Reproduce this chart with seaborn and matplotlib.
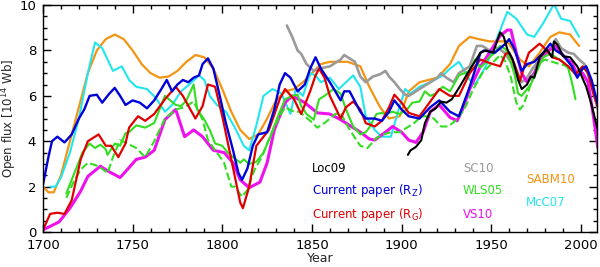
import matplotlib
matplotlib.use("Agg")
import matplotlib.pyplot as plt
import seaborn as sns
import pandas as pd
from matplotlib.ticker import MultipleLocator

# ---------------- data ----------------
sabm10_year = [1700, 1703, 1706, 1710, 1715, 1720, 1725, 1730, 1735, 1740, 1745, 1750, 1755, 1760,
               1765, 1770, 1775, 1780, 1785, 1790, 1795, 1800, 1805, 1810, 1815, 1820, 1825, 1830,
               1835, 1840, 1845, 1850, 1855, 1860, 1865, 1870, 1877, 1882, 1888, 1893, 1899, 1904,
               1910, 1920, 1927, 1932, 1938, 1943, 1949, 1955, 1959, 1966, 1971, 1977, 1983, 1988,
               1994, 1999]
sabm10_val = [2.0, 1.75, 1.75, 2.5, 4.0, 5.5, 7.0, 8.0, 8.5, 8.7, 8.5, 8.0, 7.4, 7.0,
              6.8, 6.85, 7.1, 7.5, 7.8, 7.7, 7.2, 6.3, 5.3, 4.5, 4.1, 4.3, 5.0, 5.8,
              6.2, 6.3, 6.6, 7.0, 7.4, 7.5, 7.5, 7.5, 7.3, 6.4, 5.5, 5.0, 5.1, 6.2,
              6.6, 6.8, 7.4, 8.2, 8.6, 8.5, 8.4, 8.4, 8.4, 7.6, 7.3, 7.9, 8.6, 8.8,
              8.7, 8.2]

mcc07_year = [1704, 1707, 1710, 1715, 1720, 1725, 1729, 1733, 1736, 1739, 1744, 1748, 1752, 1758,
              1763, 1768, 1772, 1777, 1783, 1787, 1790, 1793, 1797, 1802, 1807, 1812, 1815, 1819,
              1823, 1828, 1833, 1838, 1841, 1845, 1849, 1852, 1855, 1860, 1865, 1873, 1877, 1880,
              1885, 1889, 1894, 1898, 1902, 1905, 1910, 1916, 1923, 1927, 1932, 1938, 1941, 1947,
              1953, 1959, 1964, 1970, 1974, 1979, 1985, 1989, 1994, 1999]
mcc07_val = [2.0, 2.0, 2.4, 3.5, 5.0, 7.0, 8.35, 8.1, 7.6, 7.1, 7.3, 6.7, 6.4, 6.3,
             5.9, 5.3, 5.6, 6.2, 6.6, 6.9, 6.7, 6.0, 5.6, 5.3, 4.6, 3.8, 3.6, 4.7,
             6.0, 6.3, 6.1, 5.2, 6.3, 6.0, 7.0, 6.9, 6.6, 6.8, 6.3, 6.9, 6.4, 5.1,
             4.5, 4.2, 4.2, 5.3, 6.3, 6.1, 6.4, 6.6, 6.9, 7.2, 7.5, 6.7, 6.5, 7.3,
             8.5, 9.7, 9.4, 8.7, 8.6, 9.2, 10.05, 9.4, 9.3, 8.6]

rz_year = [1700, 1703, 1705, 1708, 1712, 1716, 1720, 1723, 1726, 1730, 1733, 1737, 1740, 1743,
           1746, 1750, 1754, 1758, 1762, 1766, 1769, 1772, 1775, 1778, 1781, 1784, 1787, 1789,
           1792, 1795, 1798, 1802, 1806, 1809, 1811, 1814, 1817, 1820, 1825, 1829, 1832, 1835,
           1838, 1842, 1846, 1849, 1852, 1855, 1860, 1866, 1868, 1871, 1877, 1880, 1885, 1889,
           1893, 1896, 1900, 1904, 1910, 1916, 1921, 1927, 1932, 1938, 1944, 1946, 1952, 1958,
           1960, 1963, 1967, 1970, 1974, 1979, 1983, 1986, 1990, 1995, 1998, 2001, 2003, 2006,
           2009.5]
rz_val = [2.1, 3.3, 4.0, 4.2, 3.95, 4.3, 5.0, 5.4, 6.0, 6.05, 5.7, 6.1, 6.35, 6.0,
          5.6, 5.8, 5.7, 5.45, 5.8, 6.3, 6.7, 6.2, 6.5, 6.7, 6.6, 6.8, 6.9, 7.4,
          7.65, 7.2, 6.2, 4.8, 3.6, 2.6, 2.3, 2.8, 3.8, 4.3, 4.4, 5.4, 6.5, 7.0,
          6.8, 6.2, 6.5, 7.2, 7.7, 7.2, 6.6, 5.8, 6.2, 6.2, 5.3, 5.0, 5.0, 4.9,
          5.3, 5.8, 5.4, 5.1, 5.0, 5.5, 5.8, 5.3, 5.1, 6.4, 7.9, 8.0, 7.9, 8.3,
          8.5, 8.05, 7.1, 7.4, 7.5, 7.9, 8.3, 8.0, 7.8, 7.3, 6.8, 7.2, 7.3, 6.7,
          5.6]

rg_year = [1700, 1704, 1708, 1712, 1716, 1721, 1725, 1731, 1735, 1738, 1742, 1746, 1748, 1753,
           1757, 1762, 1768, 1774, 1778, 1785, 1789, 1792, 1796, 1800, 1805, 1810, 1811.5, 1815,
           1819, 1823, 1826, 1832, 1835, 1840, 1844, 1849, 1852, 1854, 1857, 1860, 1866, 1869,
           1873, 1877, 1880, 1885, 1889, 1893, 1896, 1900, 1904, 1910, 1916, 1921, 1927, 1932,
           1938, 1944, 1949, 1955, 1958, 1960, 1963, 1966, 1969, 1971, 1977, 1981, 1984, 1988,
           1993, 1997, 2001, 2004, 2007, 2009.5]
rg_val = [0.1, 0.8, 0.85, 0.8, 1.4, 3.2, 4.0, 4.3, 3.8, 3.8, 3.3, 3.9, 4.6, 5.1,
          4.9, 5.2, 5.85, 6.4, 6.0, 5.0, 5.55, 6.5, 6.4, 5.1, 3.2, 1.3, 1.05, 2.0,
          3.8, 4.2, 4.5, 5.85, 6.3, 5.85, 5.2, 6.2, 6.9, 7.2, 6.8, 6.0, 5.0, 5.5,
          5.75, 5.4, 4.8, 4.65, 4.9, 5.5, 6.05, 5.7, 5.25, 5.1, 5.75, 6.3, 6.0, 6.0,
          7.0, 7.6, 7.45, 7.3, 7.85, 7.9, 7.4, 6.65, 7.45, 7.9, 8.3, 8.0, 7.7, 7.6,
          7.3, 6.95, 7.3, 7.0, 6.1, 5.5]

vs10_year = [1700, 1704, 1709, 1715, 1721, 1725, 1732, 1737, 1743, 1747, 1752, 1757, 1762, 1768,
             1774, 1779, 1784, 1789, 1795, 1801, 1806, 1810, 1815, 1821, 1825, 1829, 1835, 1839,
             1846, 1853, 1860, 1866, 1871, 1877, 1882, 1885, 1891, 1895, 1900, 1904, 1908, 1912,
             1916, 1921, 1927, 1931, 1934, 1938, 1944, 1949, 1955, 1959, 1961, 1964, 1967, 1970,
             1974, 1978, 1983, 1986, 1991, 1995, 1998, 2001, 2004, 2007, 2009.5]
vs10_val = [0.1, 0.25, 0.45, 1.05, 1.8, 2.45, 2.9, 2.65, 2.4, 2.75, 3.2, 3.3, 3.6, 4.95,
            5.4, 4.2, 4.5, 4.2, 3.6, 3.5, 3.05, 2.3, 1.95, 2.2, 3.05, 4.5, 5.7, 6.0,
            5.7, 5.25, 5.2, 4.95, 4.7, 4.4, 4.1, 4.05, 4.4, 4.65, 4.4, 4.05, 3.95, 4.4,
            5.3, 5.6, 5.05, 4.9, 5.4, 6.3, 7.3, 7.9, 8.65, 8.9, 8.9, 7.9, 7.0, 6.6,
            7.0, 7.75, 8.05, 8.2, 7.7, 7.45, 6.95, 7.0, 6.6, 5.1, 3.7]

wls05_year = [1713, 1719, 1722, 1726, 1729, 1732, 1735, 1736, 1740, 1743, 1746, 1748, 1752, 1757,
              1762, 1768, 1771, 1774, 1777, 1780, 1784, 1786, 1790, 1793, 1796, 1800, 1803, 1806,
              1810, 1812, 1815, 1819, 1823, 1826, 1831, 1835, 1839, 1842, 1844, 1847, 1851, 1854,
              1857, 1862, 1866, 1869, 1873, 1877, 1880, 1882, 1886, 1889, 1891, 1895, 1899, 1903,
              1906, 1910, 1913, 1916, 1919, 1923, 1927, 1932, 1938, 1941, 1944, 1946, 1949, 1952,
              1955, 1958, 1960, 1963, 1965, 1967, 1970, 1972, 1975, 1979, 1983, 1986, 1990, 1993,
              1995, 1997]
wls05_val = [1.7, 2.9, 3.5, 3.9, 3.7, 3.85, 3.65, 3.4, 3.9, 3.8, 4.35, 4.4, 4.7, 4.6,
             4.8, 6.0, 5.8, 5.6, 5.55, 5.8, 6.5, 5.4, 4.95, 4.5, 3.9, 3.8, 3.5, 3.3,
             3.05, 3.2, 3.0, 3.1, 3.5, 4.05, 5.1, 5.85, 6.0, 6.05, 5.55, 5.2, 4.95, 5.85,
             6.0, 6.3, 6.1, 5.4, 4.65, 4.3, 4.4, 4.6, 5.2, 5.25, 5.2, 5.3, 5.2, 5.4,
             5.7, 5.75, 6.2, 6.0, 6.1, 6.4, 6.2, 6.9, 7.1, 7.6, 7.25, 7.4, 7.7, 7.9,
             8.2, 8.05, 7.7, 6.95, 6.1, 6.0, 6.3, 6.5, 7.0, 7.7, 7.85, 7.7, 7.5, 7.2,
             6.6, 5.85]

wls05b_year = [1713, 1717, 1721, 1725, 1731, 1736, 1739, 1743, 1747, 1752, 1757, 1762, 1768, 1774,
               1779, 1784, 1789, 1792, 1797, 1801, 1805, 1807, 1811, 1814, 1818, 1822, 1825, 1830,
               1835, 1840, 1843, 1849, 1853, 1857, 1863, 1866, 1870, 1874, 1877, 1881, 1886, 1890,
               1894, 1899, 1903, 1907, 1911, 1915, 1918, 1922, 1926, 1930, 1935, 1940, 1945, 1950,
               1955, 1958, 1961, 1964, 1966, 1968, 1972, 1976, 1980, 1984, 1988, 1993]
wls05b_val = [1.5, 2.2, 2.75, 3.05, 2.9, 2.6, 3.3, 4.05, 3.9, 3.7, 3.3, 4.0, 5.0, 5.4,
              5.5, 5.75, 4.95, 4.05, 3.5, 3.05, 2.0, 2.0, 1.55, 1.85, 2.75, 3.3, 3.9, 4.8,
              5.5, 5.3, 5.3, 4.9, 4.6, 4.8, 5.2, 5.25, 4.65, 4.15, 3.8, 3.7, 4.15, 4.3,
              4.4, 4.4, 4.6, 4.8, 5.1, 5.1, 5.0, 4.65, 4.65, 4.9, 5.4, 6.3, 7.0, 7.4,
              7.8, 7.5, 6.8, 5.7, 5.4, 5.6, 6.5, 7.4, 7.6, 7.5, 7.4, 7.3]

sc10_year = [1836, 1839, 1842, 1844, 1847, 1851, 1854, 1860, 1866, 1868, 1871, 1874, 1877, 1880,
             1884, 1888, 1891, 1893, 1896, 1899, 1902, 1904, 1908, 1912, 1916, 1920, 1922, 1925,
             1929, 1932, 1938, 1942, 1945, 1949, 1952, 1955, 1958, 1960, 1964, 1967, 1970, 1973,
             1977, 1981, 1984, 1986, 1989, 1993, 1996, 1999, 2002, 2005, 2008, 2009.5]
sc10_val = [9.1, 8.6, 8.0, 7.85, 7.4, 7.1, 7.2, 7.3, 7.6, 7.8, 7.65, 7.5, 6.85, 6.6,
            6.85, 6.95, 7.1, 6.85, 6.6, 6.3, 6.05, 6.0, 6.2, 6.4, 6.6, 6.8, 7.0, 6.8,
            6.6, 7.0, 7.3, 8.2, 8.2, 8.0, 8.15, 8.05, 7.85, 7.6, 7.15, 6.6, 6.8, 7.2,
            7.6, 7.9, 8.2, 8.5, 8.1, 7.9, 7.85, 7.6, 7.4, 6.7, 5.85, 5.4]

loc09_year = [1903.5, 1905, 1908, 1911, 1913, 1916, 1919, 1922, 1925, 1928, 1932, 1938, 1944, 1947,
              1951, 1955, 1957, 1959, 1962, 1965, 1967, 1970, 1972, 1974, 1977, 1981, 1984, 1985,
              1987, 1990, 1994, 1998, 2000, 2003, 2006, 2008, 2009.5]
loc09_val = [3.4, 3.6, 3.75, 4.05, 4.8, 5.3, 5.45, 5.75, 5.7, 5.85, 6.35, 7.15, 7.9, 8.0,
             7.9, 8.8, 8.6, 8.05, 7.6, 6.7, 6.3, 6.5, 6.85, 6.8, 7.7, 8.05, 7.7, 8.4,
             8.25, 7.75, 7.7, 7.3, 6.95, 6.4, 5.6, 4.95, 4.5]

x_ticks = [1700, 1750, 1800, 1850, 1900, 1950, 2000]
y_ticks = [0, 2, 4, 6, 8, 10]

# ---------------- plotting ----------------
sns.set_style("ticks")
plt.rcParams["font.family"] = ["DejaVu Sans"]

fig = plt.figure(figsize=(6.0, 2.67), dpi=100)
ax = fig.add_axes([0.0717, 0.131, 0.9233, 0.85])

series = [
    (sabm10_year, sabm10_val, "#f39412", "-", 1.6),
    (mcc07_year, mcc07_val, "#22e6ee", "-", 1.5),
    (sc10_year, sc10_val, "#9a9a9a", "-", 1.9),
    (vs10_year, vs10_val, "#ee11ee", "-", 2.2),
    (wls05b_year, wls05b_val, "#33dd22", "--", 1.5),
    (wls05_year, wls05_val, "#33dd22", "-", 1.5),
    (rg_year, rg_val, "#e00000", "-", 1.6),
    (rz_year, rz_val, "#0000d8", "-", 1.7),
    (loc09_year, loc09_val, "#000000", "-", 1.5),
]
for yrs, vals, col, ls, lw in series:
    df = pd.DataFrame({"year": yrs, "flux": vals})
    sns.lineplot(data=df, x="year", y="flux", color=col, linestyle=ls, linewidth=lw,
                 estimator=None, sort=False, ax=ax)

ax.set_xlim(1700, 2009)
ax.set_ylim(0, 10)
ax.set_xticks(x_ticks)
ax.set_yticks(y_ticks)
ax.xaxis.set_minor_locator(MultipleLocator(10))
ax.yaxis.set_minor_locator(MultipleLocator(0.5))
ax.tick_params(which="both", direction="in", top=True, right=True, colors="black",
               labelsize=9.5, width=1.0)
ax.tick_params(which="major", length=6)
ax.tick_params(which="minor", length=3)
ax.tick_params(axis="x", which="major", pad=5)
ax.tick_params(axis="y", which="major", pad=5)
for s in ax.spines.values():
    s.set_linewidth(1.0)
    s.set_color("black")

ax.set_xlabel("Year", fontsize=9, labelpad=0)
ax.set_ylabel("Open flux [10$^{14}$ Wb]", fontsize=8.5)
ax.yaxis.set_label_coords(-0.043, 0.5)

fs = 8.5
ax.text(0.486, 0.282, "Loc09", color="black", fontsize=fs, transform=ax.transAxes, va="center")
ax.text(0.486, 0.181, r"Current paper ($\mathrm{R_Z}$)", color="#0000d8", fontsize=fs,
        transform=ax.transAxes, va="center")
ax.text(0.486, 0.079, r"Current paper ($\mathrm{R_G}$)", color="#e00000", fontsize=fs,
        transform=ax.transAxes, va="center")
ax.text(0.758, 0.282, "SC10", color="#9a9a9a", fontsize=fs, transform=ax.transAxes, va="center")
ax.text(0.758, 0.181, "WLS05", color="#33dd22", fontsize=fs, transform=ax.transAxes, va="center")
ax.text(0.758, 0.079, "VS10", color="#ee11ee", fontsize=fs, transform=ax.transAxes, va="center")
ax.text(0.872, 0.233, "SABM10", color="#f39412", fontsize=fs, transform=ax.transAxes, va="center")
ax.text(0.872, 0.132, "McC07", color="#22e6ee", fontsize=fs, transform=ax.transAxes, va="center")

fig.savefig("out.png", dpi=100)
